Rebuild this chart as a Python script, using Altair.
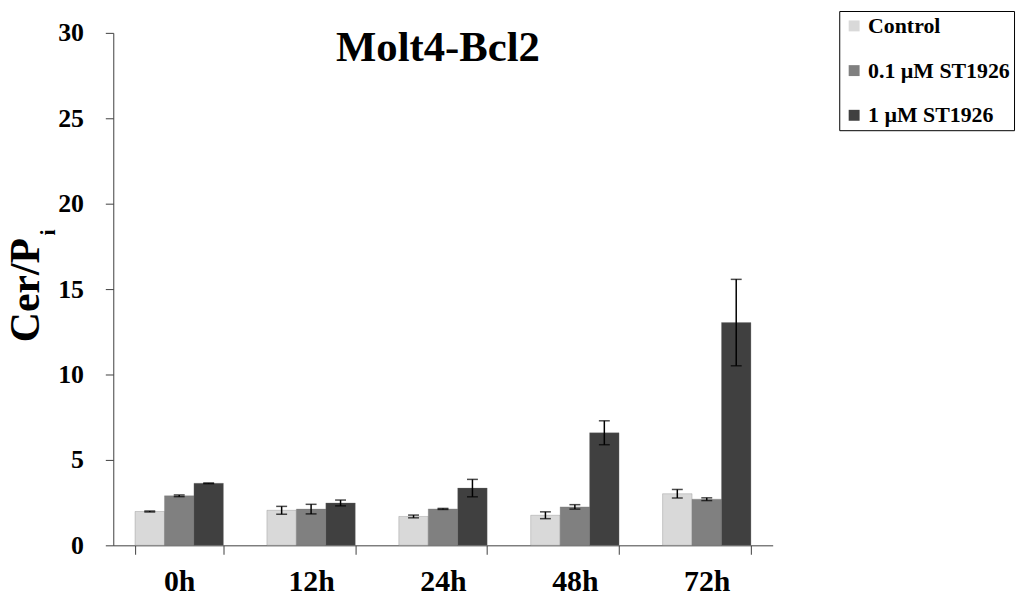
import altair as alt
import pandas as pd

categories = ["0h", "12h", "24h", "48h", "72h"]
series = ["Control", "0.1 µM ST1926", "1 µM ST1926"]
control = [1.98, 2.05, 1.69, 1.76, 3.02]
low_dose = [2.90, 2.12, 2.13, 2.25, 2.70]
high_dose = [3.63, 2.48, 3.35, 6.59, 13.04]
control_err = [0.03, 0.23, 0.08, 0.20, 0.25]
low_err = [0.05, 0.28, 0.03, 0.13, 0.08]
high_err = [0.02, 0.17, 0.51, 0.70, 2.53]
colors = ["#d9d9d9", "#808080", "#404040"]

rows = []
for name, vals, errs in zip(series, [control, low_dose, high_dose], [control_err, low_err, high_err]):
    for c, v, e in zip(categories, vals, errs):
        rows.append({"time": c, "series": name, "value": v, "lo": v - e, "hi": v + e})
df = pd.DataFrame(rows)

FONT = "Liberation Serif"

x = alt.X("time:N", sort=categories, title=None,
          scale=alt.Scale(paddingInner=0.33, paddingOuter=0.165),
          axis=alt.Axis(labelAngle=0, labelFont=FONT, labelFontSize=30, labelFontWeight="bold",
                        labelColor="black", labelPadding=12, tickBand="extent", tickSize=9,
                        tickColor="#404040", domainColor="#404040", grid=False))
xoff = alt.XOffset("series:N", sort=series, scale=alt.Scale(paddingInner=0, paddingOuter=0))
yscale = alt.Scale(domain=[0, 30], nice=False)

base = alt.Chart(df)

bars = base.mark_bar(stroke="#707070", strokeWidth=0.5, strokeOpacity=0.6).encode(
    x=x,
    xOffset=xoff,
    y=alt.Y("value:Q", scale=yscale, title=None,
            axis=alt.Axis(values=[0, 5, 10, 15, 20, 25, 30], labelFont=FONT, labelFontSize=26,
                          labelFontWeight="bold", labelColor="black", labelPadding=22,
                          tickSize=8, tickColor="#404040", domainColor="#404040", grid=False)),
    color=alt.Color("series:N", sort=series,
                    scale=alt.Scale(domain=series, range=colors),
                    legend=alt.Legend(title=None, orient="none", legendX=731, legendY=-22,
                                      strokeColor="black", padding=4, symbolType="square",
                                      symbolSize=121, symbolStrokeWidth=0,
                                      labelFont=FONT, labelFontSize=22, labelFontWeight="bold",
                                      labelColor="black", rowPadding=23, labelOffset=3)),
)

rules = base.mark_rule(color="black", strokeWidth=1.5).encode(
    x=alt.X("time:N", sort=categories), xOffset=xoff,
    y=alt.Y("lo:Q", scale=yscale), y2="hi:Q")
cap_lo = base.mark_tick(color="black", thickness=1.5, size=11, orient="horizontal").encode(
    x=alt.X("time:N", sort=categories), xOffset=xoff, y=alt.Y("lo:Q", scale=yscale))
cap_hi = base.mark_tick(color="black", thickness=1.5, size=11, orient="horizontal").encode(
    x=alt.X("time:N", sort=categories), xOffset=xoff, y=alt.Y("hi:Q", scale=yscale))

title = alt.Chart(pd.DataFrame({"t": ["Molt4-Bcl2"]})).mark_text(
    font=FONT, fontSize=43, fontWeight="bold", color="black", align="center", baseline="alphabetic"
).encode(x=alt.value(327), y=alt.value(28), text="t:N")

ytitle = alt.Chart(pd.DataFrame({"t": ["Cer/P"]})).mark_text(
    font=FONT, fontSize=42, fontWeight="bold", color="black", align="center",
    baseline="alphabetic", angle=270
).encode(x=alt.value(-75), y=alt.value(259), text="t:N")

ysub = alt.Chart(pd.DataFrame({"t": ["i"]})).mark_text(
    font=FONT, fontSize=22, fontWeight="bold", color="black", align="center",
    baseline="alphabetic", angle=270
).encode(x=alt.value(-59), y=alt.value(201), text="t:N")

chart = alt.layer(bars, rules, cap_lo, cap_hi, title, ytitle, ysub).properties(
    width=664, height=516,
    autosize=alt.AutoSizeParams(type="none"),
    padding={"left": 106, "top": 23, "right": 248, "bottom": 50},
).configure_view(strokeWidth=0)

chart.save("out.html", embed_options={"renderer": "svg", "actions": False})
